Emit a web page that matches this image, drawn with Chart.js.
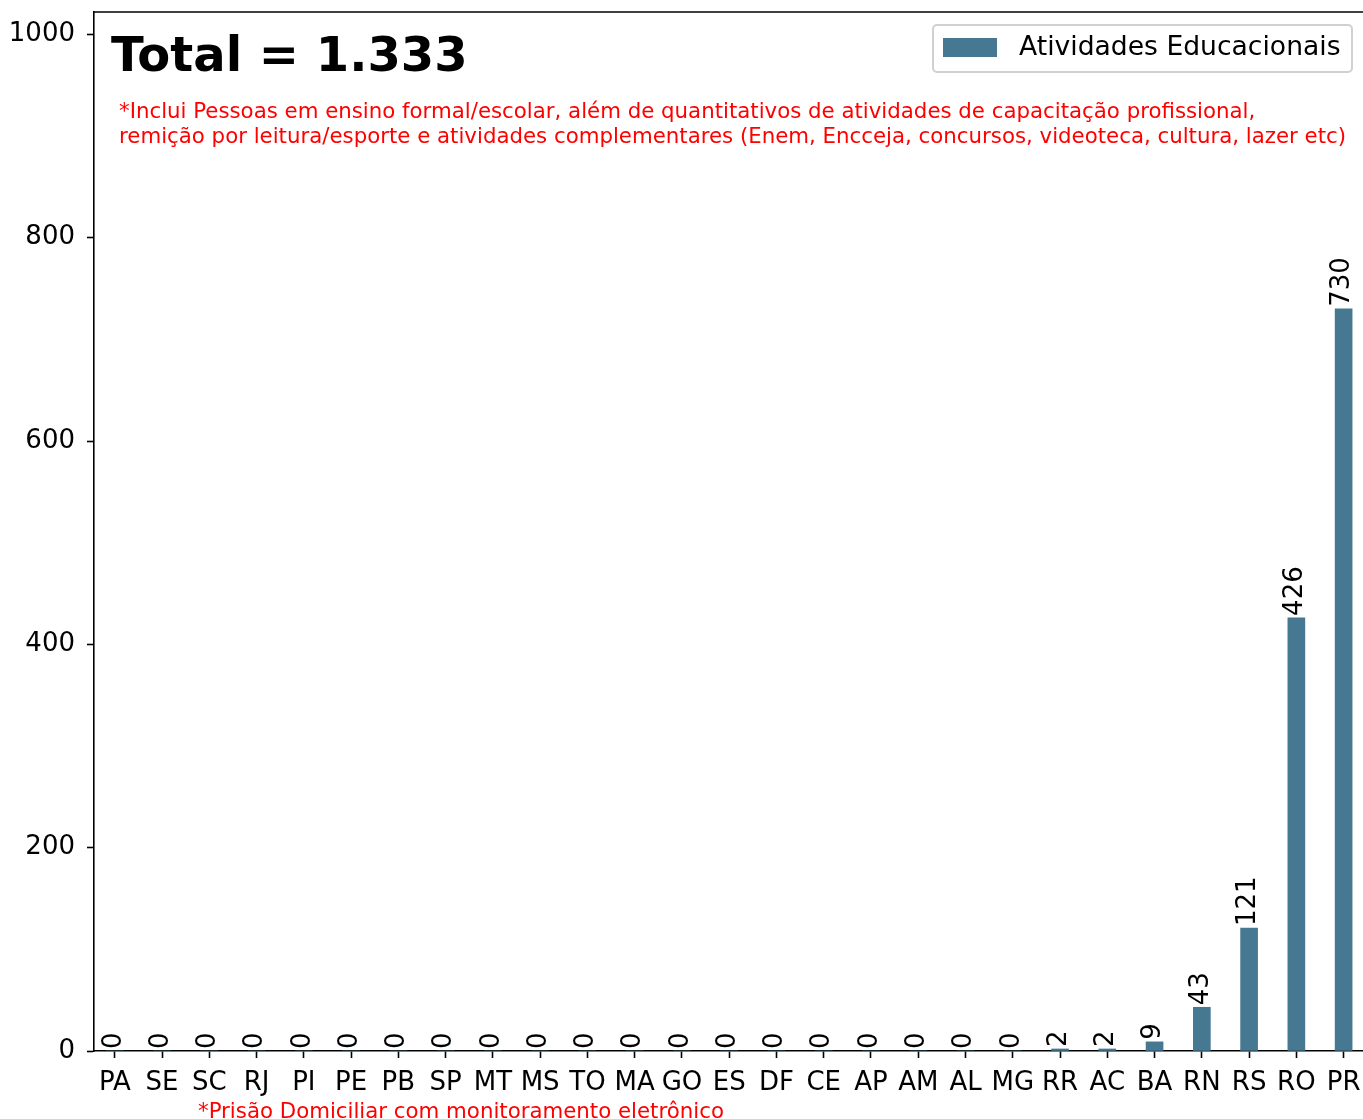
<!DOCTYPE html>
<html>
<head>
<meta charset="utf-8">
<script src="https://cdn.jsdelivr.net/npm/chart.js@4.4.0/dist/chart.umd.min.js"></script>
<style>
  body { margin: 0; background: #fff; }
  canvas { display: block; }
</style>
</head>
<body>
<canvas id="chart" width="1363" height="1119"></canvas>
<script>
const states = ["PA", "SE", "SC", "RJ", "PI", "PE", "PB", "SP", "MT", "MS", "TO", "MA", "GO", "ES",
    "DF", "CE", "AP", "AM", "AL", "MG", "RR", "AC", "BA", "RN", "RS", "RO", "PR"];
const atividades = [0, 0, 0, 0, 0, 0, 0, 0, 0, 0, 0, 0, 0, 0, 0, 0, 0, 0, 0, 0, 2, 2, 9, 43, 121, 426, 730];
const yTicks = [0, 200, 400, 600, 800, 1000];
const seriesLabel = "Atividades Educacionais";
const titleText = "Total = 1.333";
const noteLines = [
    "*Inclui Pessoas em ensino formal/escolar, além de quantitativos de atividades de capacitação profissional,",
    "remição por leitura/esporte e atividades complementares (Enem, Encceja, concursos, videoteca, cultura, lazer etc)"
];
const footNote = "*Prisão Domiciliar com monitoramento eletrônico";

const FONT = "DejaVu Sans";
const barColor = "#467891";

const overlay = {
    id: "overlay",
    afterDatasetsDraw(chart) {
        const ctx = chart.ctx;
        const meta = chart.getDatasetMeta(0);
        ctx.save();
        ctx.fillStyle = "#000";
        ctx.font = `26px "${FONT}"`;
        ctx.textAlign = "left";
        ctx.textBaseline = "middle";
        meta.data.forEach((bar, i) => {
            ctx.save();
            ctx.translate(bar.x - 1, bar.y - 2);
            ctx.rotate(-Math.PI / 2);
            ctx.fillText(String(atividades[i]), 0, 0);
            ctx.restore();
        });
        ctx.restore();
    },
    afterDraw(chart) {
        const ctx = chart.ctx;
        const area = chart.chartArea;
        ctx.save();
        // top spine
        ctx.strokeStyle = "#000";
        ctx.lineWidth = 1.6;
        ctx.beginPath();
        ctx.moveTo(area.left, area.top);
        ctx.lineTo(chart.width, area.top);
        ctx.stroke();

        // title
        ctx.fillStyle = "#000";
        ctx.textAlign = "left";
        ctx.textBaseline = "alphabetic";
        ctx.font = `bold 48px "${FONT}"`;
        ctx.fillText(titleText, 111, 71);

        // notes
        ctx.fillStyle = "#ff0000";
        ctx.font = `21.3px "${FONT}"`;
        noteLines.forEach((line, i) => ctx.fillText(line, 119, 118 + i * 25));
        ctx.fillText(footNote, 198, 1118);

        // legend
        const lx = 933, ly = 25, lw = 419, lh = 47;
        ctx.strokeStyle = "#d0d0d0";
        ctx.lineWidth = 2;
        ctx.fillStyle = "rgba(255,255,255,0.8)";
        ctx.beginPath();
        ctx.roundRect(lx, ly, lw, lh, 4);
        ctx.fill();
        ctx.stroke();
        ctx.fillStyle = barColor;
        ctx.fillRect(943, 38, 54, 19);
        ctx.fillStyle = "#000";
        ctx.font = `26.6px "${FONT}"`;
        ctx.textBaseline = "middle";
        ctx.fillText(seriesLabel, 1019, 48);
        ctx.restore();
    }
};

new Chart(document.getElementById("chart"), {
    type: "bar",
    data: {
        datasets: [{
            label: seriesLabel,
            data: atividades.map((v, i) => ({ x: i, y: v })),
            backgroundColor: barColor,
            barThickness: 17
        }]
    },
    options: {
        responsive: false,
        animation: false,
        layout: { padding: { top: 12, left: 0, right: 0, bottom: 0 } },
        plugins: {
            legend: { display: false },
            tooltip: { enabled: false }
        },
        scales: {
            x: {
                type: "linear",
                offset: false,
                min: -0.44,
                max: 26.41,
                afterBuildTicks: scale => {
                    scale.ticks = states.map((s, i) => ({ value: i }));
                },
                afterFit: scale => {
                    scale.height = 68;
                    scale.paddingLeft = 0;
                    scale.paddingRight = 0;
                },
                ticks: {
                    autoSkip: false,
                    maxRotation: 0,
                    color: "#000",
                    padding: 10,
                    font: { family: FONT, size: 26 },
                    callback: v => states[v]
                },
                grid: {
                    offset: false,
                    drawOnChartArea: false,
                    drawTicks: true,
                    tickLength: 7,
                    tickColor: "#000",
                    tickWidth: 1.6
                },
                border: { display: true, color: "#000", width: 1.6 }
            },
            y: {
                min: 0,
                max: 1022,
                afterBuildTicks: scale => {
                    scale.ticks = yTicks.map(v => ({ value: v }));
                },
                afterFit: scale => {
                    scale.width = 94;
                    scale.paddingTop = 0;
                    scale.paddingBottom = 0;
                },
                ticks: {
                    color: "#000",
                    padding: 12,
                    font: { family: FONT, size: 26, lineHeight: 1.0 },
                    callback: v => String(v)
                },
                grid: {
                    drawOnChartArea: false,
                    drawTicks: true,
                    tickLength: 7,
                    tickColor: "#000",
                    tickWidth: 1.6
                },
                border: { display: true, color: "#000", width: 1.6 }
            }
        }
    },
    plugins: [overlay]
});
</script>
</body>
</html>
